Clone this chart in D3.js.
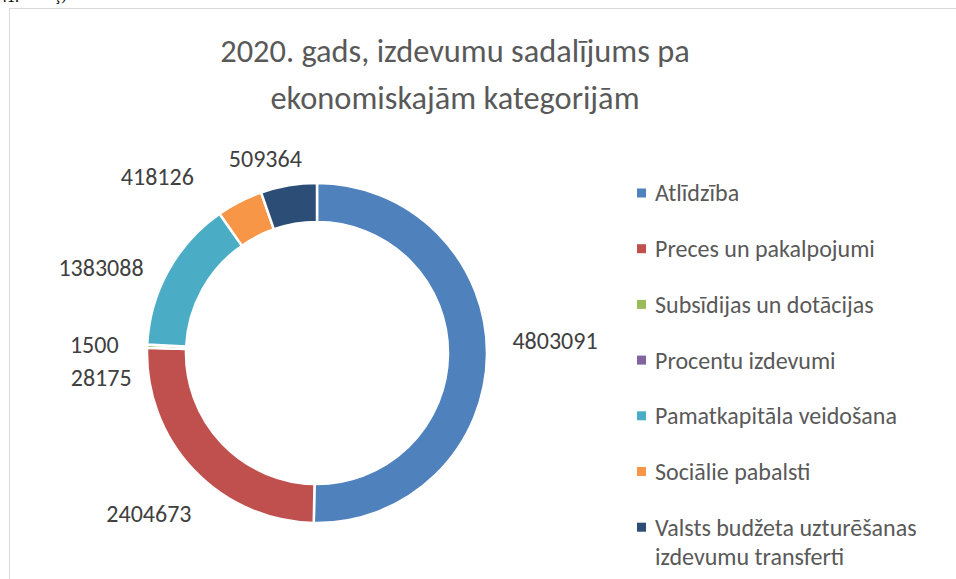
<!DOCTYPE html>
<html>
<head>
<meta charset="utf-8">
<script src="https://cdn.jsdelivr.net/npm/d3@7"></script>
<style>
  body { margin: 0; background: #fff; }
  svg { display: block; font-family: Carlito, Calibri, Lato, sans-serif; }
</style>
</head>
<body>
<div id="chart"></div>
<script>
// chart data
const categories = [
    "Atlīdzība",
    "Preces un pakalpojumi",
    "Subsīdijas un dotācijas",
    "Procentu izdevumi",
    "Pamatkapitāla veidošana",
    "Sociālie pabalsti",
    "Valsts budžeta uzturēšanas izdevumu transferti"
];
const values = [4803091, 2404673, 28175, 1500, 1383088, 418126, 509364];
const colors = ["#4F81BD", "#C0504D", "#9BBB59", "#8064A2", "#4BACC6", "#F79646", "#2C4D75"];
const titleLines = ["2020. gads, izdevumu sadalījums pa", "ekonomiskajām kategorijām"];

// labels were dragged by hand in the original, so nudge them off the centroid
const labelNudge = [[6, -15], [0, 0], [16, 34], [9, 3], [-13, 27], [-54, 30], [-13, 34]];

const width = 956, height = 579;
const cx = 317, cy = 353, outerR = 170, innerR = 131;

const svg = d3.select("#chart").append("svg")
    .attr("width", width)
    .attr("height", height);

// cut-off caption of the surrounding document
svg.append("text").attr("x", -1).attr("y", 2)
    .style("font-family", "'Liberation Serif', serif").style("font-size", "16px")
    .text("41.");
svg.append("text").attr("x", 55).attr("y", 0)
    .style("font-family", "'Liberation Serif', serif").style("font-size", "16px")
    .text("ş)");

// chart area frame
svg.append("path")
    .attr("d", "M9.5," + height + "V8.5H" + width)
    .attr("fill", "none")
    .attr("stroke", "#d9d9d9")
    .attr("stroke-width", 1);

svg.selectAll(".title")
    .data(titleLines)
    .enter()
    .append("text")
    .attr("class", "title")
    .attr("x", 455)
    .attr("y", function (d, i) { return 62 + i * 47; })
    .attr("text-anchor", "middle")
    .attr("fill", "#595959")
    .style("font-size", "32.4px")
    .text(function (d) { return d; });

const pie = d3.pie().sort(null).value(function (d) { return d; });
const arc = d3.arc().innerRadius(innerR).outerRadius(outerR);
const labelArc = d3.arc().innerRadius(232).outerRadius(232);

const arcs = pie(values);
const g = svg.append("g").attr("transform", "translate(" + cx + "," + cy + ")");

g.selectAll("path")
    .data(arcs)
    .enter()
    .append("path")
    .attr("d", arc)
    .attr("fill", function (d, i) { return colors[i]; })
    .attr("stroke", "#fff")
    .attr("stroke-width", 2.5)
    .attr("stroke-linejoin", "miter");

g.selectAll(".lbl")
    .data(arcs)
    .enter()
    .append("text")
    .attr("class", "lbl")
    .attr("transform", function (d, i) {
        const c = labelArc.centroid(d);
        return "translate(" + (c[0] + labelNudge[i][0]) + "," + (c[1] + labelNudge[i][1]) + ")";
    })
    .attr("text-anchor", "middle")
    .attr("dy", "0.36em")
    .attr("fill", "#404040")
    .style("font-size", "24px")
    .text(function (d) { return d.data; });

// legend
const legend = svg.append("g").attr("transform", "translate(637,193)");
const rows = legend.selectAll("g")
    .data(categories)
    .enter()
    .append("g")
    .attr("transform", function (d, i) { return "translate(0," + (i * 55.7) + ")"; });

rows.append("rect")
    .attr("x", 0).attr("y", -4.5)
    .attr("width", 9).attr("height", 9)
    .attr("fill", function (d, i) { return colors[i]; });

rows.append("text")
    .attr("x", 18)
    .attr("fill", "#595959")
    .style("font-size", "24px")
    .each(function (d, i) {
        const t = d3.select(this);
        const lines = i === 6 ? ["Valsts budžeta uzturēšanas", "izdevumu transferti"] : [d];
        lines.forEach(function (line, j) {
            t.append("tspan").attr("x", 18).attr("y", j * 29).attr("dy", "0.35em").text(line);
        });
    });
</script>
</body>
</html>
